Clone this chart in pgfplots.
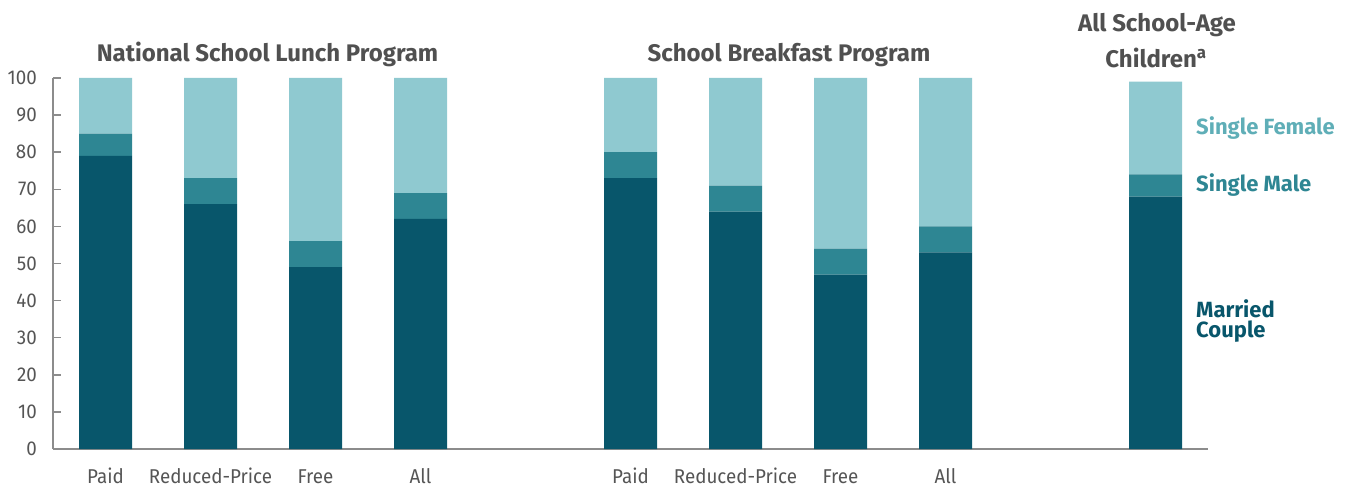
\documentclass[border=0pt]{standalone}
\usepackage{fontspec}
\setmainfont{Fira Sans}[FakeStretch=0.94]
\newfontfamily\widefont{Fira Sans}
\usepackage{pgfplots}
\pgfplotsset{compat=1.18}
\definecolor{married}{HTML}{08566B}
\definecolor{smale}{HTML}{2E8693}
\definecolor{sfemale}{HTML}{8FC9D0}
\definecolor{sfemaletxt}{HTML}{5FAEB7}
\definecolor{titlegray}{HTML}{505050}
\definecolor{tickgray}{HTML}{555555}
\definecolor{axisgray}{HTML}{8C8C8C}
\begin{document}
\begin{tikzpicture}
\path[use as bounding box] (0,0) rectangle (1348pt,488pt);
\begin{axis}[
    at={(53pt,39pt)}, anchor=south west,
    scale only axis,
    x=105pt, y=3.71pt,
    xmin=-0.5, xmax=10.5, ymin=0, ymax=100,
    ybar stacked, bar width=53pt,
    axis lines=left,
    axis line style={-, axisgray, line width=1.5pt},
    xtick={0,1,2,3,5,6,7,8},
    xticklabels={Paid,Reduced-Price,Free,All,Paid,Reduced-Price,Free,All},
    x tick style={draw=none},
    ytick={0,10,...,100},
    y tick style={axisgray, line width=1.5pt},
    tick align=inside, major tick length=8pt,
    /pgf/number format/assume math mode=true,
    xticklabel style={anchor=base, inner sep=0pt, yshift=-34pt, text=tickgray, font=\fontsize{20}{24}\selectfont},
    yticklabel style={anchor=east, inner sep=0pt, xshift=-16pt, text=tickgray, font=\fontsize{20}{24}\selectfont},
    clip=false,
]
\addplot[fill=married, draw=none] coordinates {(0,79) (1,66) (2,49) (3,62) (5,73) (6,64) (7,47) (8,53) (10,68)};
\addplot[fill=smale, draw=none] coordinates {(0,6) (1,7) (2,7) (3,7) (5,7) (6,7) (7,7) (8,7) (10,6)};
\addplot[fill=sfemale, draw=none] coordinates {(0,15) (1,27) (2,44) (3,31) (5,20) (6,29) (7,46) (8,40) (10,25)};
\end{axis}
\begin{scope}[every node/.style={inner sep=0pt, font=\widefont\fontsize{24}{28}\selectfont\bfseries}]
\node[anchor=base, text=titlegray] at (267.5pt,426pt) {National School Lunch Program};
\node[anchor=base, text=titlegray] at (789pt,426pt) {School Breakfast Program};
\node[anchor=base, text=titlegray] at (1157pt,456pt) {All School-Age};
\node[anchor=base, text=titlegray] at (1156pt,420pt) {Children\textsuperscript{a}};
\end{scope}
\begin{scope}[every node/.style={inner sep=0pt, anchor=base west, font=\widefont\fontsize{22}{26}\selectfont\bfseries}]
\node[text=sfemaletxt] at (1196pt,353pt) {Single Female};
\node[text=smale] at (1196pt,296pt) {Single Male};
\node[text=married] at (1196pt,171pt) {Married};
\node[text=married] at (1196pt,151pt) {Couple};
\end{scope}
\end{tikzpicture}
\end{document}
